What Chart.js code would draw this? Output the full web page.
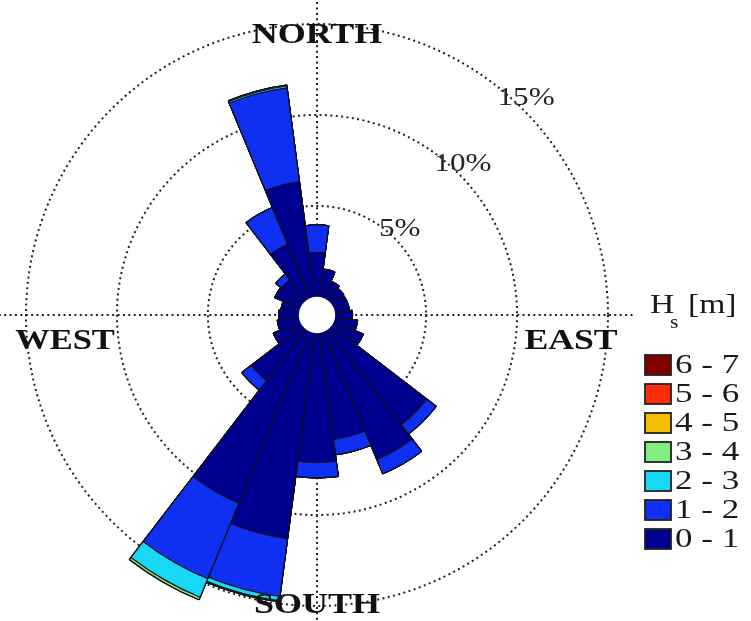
<!DOCTYPE html>
<html>
<head>
<meta charset="utf-8">
<script src="https://cdn.jsdelivr.net/npm/chart.js@4.4.1/dist/chart.umd.min.js"></script>
<style>
  html, body { margin: 0; padding: 0; background: #fff; }
  #wrap { width: 751px; height: 621px; position: relative; }
</style>
</head>
<body>
<div id="wrap"><canvas id="rose" width="751" height="621"></canvas></div>
<script>
// Wave direction bins (degrees, clockwise from north), 15° wide
const directions = [0, 15, 30, 45, 60, 75, 90, 105, 120, 135, 150, 165,
                    180, 195, 210, 225, 240, 255, 270, 285, 300, 315, 330, 345];

// Occurrence (%) per direction for each significant wave height class
const freq01 = [2.45, 1.55, 1.0, 0.85, 0.8, 0.8, 0.95, 1.25, 1.75, 6.6, 7.6, 5.9,
                7.1, 11.4, 10.2, 3.55, 1.6, 1.2, 1.1, 1.0, 1.5, 1.45, 3.2, 6.4];
const freq12 = [1.5, 0, 0, 0, 0, 0, 0, 0, 0, 0.65, 0.85, 0.85,
                0.85, 3.2, 4.5, 0.65, 0, 0, 0, 0, 0, 0.4, 2.2, 5.2];
const freq23 = [0, 0, 0, 0, 0, 0, 0, 0, 0, 0, 0, 0,
                0, 0.25, 1.1, 0, 0, 0, 0, 0, 0, 0, 0, 0.1];
const freq34 = [0, 0, 0, 0, 0, 0, 0, 0, 0, 0, 0, 0,
                0, 0.05, 0.15, 0, 0, 0, 0, 0, 0, 0, 0, 0.05];
const freq45 = [0, 0, 0, 0, 0, 0, 0, 0, 0, 0, 0, 0,
                0, 0, 0, 0, 0, 0, 0, 0, 0, 0, 0, 0];
const freq56 = [0, 0, 0, 0, 0, 0, 0, 0, 0, 0, 0, 0,
                0, 0, 0, 0, 0, 0, 0, 0, 0, 0, 0, 0];
const freq67 = [0, 0, 0, 0, 0, 0, 0, 0, 0, 0, 0, 0,
                0, 0, 0, 0, 0, 0, 0, 0, 0, 0, 0, 0];

const hsClasses = ['0 - 1', '1 - 2', '2 - 3', '3 - 4', '4 - 5', '5 - 6', '6 - 7'];
const classColors = ['#000090', '#0F30F2', '#18D8F5', '#80EE80', '#F2C000', '#FF2C08', '#800000'];

const tickValues = [5, 10, 15];
const tickLabels = ['5%', '10%', '15%'];
const compassLabels = ['NORTH', 'EAST', 'SOUTH', 'WEST'];

// Each ring is drawn as a cumulative sector; the lowest class sits on top
const series = [freq01, freq12, freq23, freq34, freq45, freq56, freq67];
let running = directions.map(() => 0);
const datasets = series.map((s, k) => {
  running = running.map((v, i) => v + s[i]);
  return {
    label: hsClasses[k],
    data: running.slice(),
    backgroundColor: classColors[k],
    borderColor: '#101018',
    borderWidth: 1.2,
    clip: false
  };
});

const SERIF = '"Liberation Serif", "DejaVu Serif", serif';

function wideText(ctx, text, x, y, font, color, sx, align, baseline) {
  ctx.save();
  ctx.font = font;
  ctx.fillStyle = color;
  ctx.textAlign = align || 'center';
  ctx.textBaseline = baseline || 'middle';
  ctx.translate(x, y);
  ctx.scale(sx, 1);
  ctx.fillText(text, 0, 0);
  ctx.restore();
}

// Dotted N-S / E-W cross beneath the sectors
const crossLines = {
  id: 'crossLines',
  beforeDatasetsDraw(chart) {
    const r = chart.scales.r;
    const ctx = chart.ctx;
    const len = r.getDistanceFromCenterForValue(16.5);
    ctx.save();
    ctx.strokeStyle = '#222';
    ctx.lineWidth = 2;
    ctx.setLineDash([2, 3.4]);
    ctx.beginPath();
    ctx.moveTo(r.xCenter, r.yCenter - len);
    ctx.lineTo(r.xCenter, r.yCenter + len);
    ctx.moveTo(r.xCenter - len, r.yCenter);
    ctx.lineTo(r.xCenter + len, r.yCenter);
    ctx.stroke();
    ctx.restore();
  }
};

// White hub at the zero radius
const hub = {
  id: 'hub',
  afterDatasetsDraw(chart) {
    const r = chart.scales.r;
    const ctx = chart.ctx;
    ctx.save();
    ctx.fillStyle = '#fff';
    ctx.beginPath();
    ctx.arc(r.xCenter, r.yCenter, r.getDistanceFromCenterForValue(0), 0, Math.PI * 2);
    ctx.fill();
    ctx.restore();
  }
};

// Percentage ticks, compass names and the wave-height key
const roseText = {
  id: 'roseText',
  afterDraw(chart) {
    const r = chart.scales.r;
    const ctx = chart.ctx;
    const cx = r.xCenter, cy = r.yCenter, R = r.drawingArea;

    const a = 44 * Math.PI / 180;
    tickValues.forEach((v, i) => {
      const d = r.getDistanceFromCenterForValue(v) + 10;
      wideText(ctx, tickLabels[i], cx + d * Math.sin(a), cy - d * Math.cos(a),
        '26px ' + SERIF, '#262626', 1.2);
    });

    const bold = 'bold 30px ' + SERIF;
    wideText(ctx, compassLabels[0], cx, cy - 0.962 * R, bold, '#111', 1.2);
    wideText(ctx, compassLabels[1], cx + 0.873 * R, cy + 26, bold, '#111', 1.19);
    wideText(ctx, compassLabels[2], cx, cy + 0.997 * R, bold, '#111', 1.2);
    wideText(ctx, compassLabels[3], cx - 0.866 * R, cy + 26, bold, '#111', 1.15);

    // key
    const kx = chart.chartArea.right + 37;
    wideText(ctx, 'H', kx + 5, 313, '28px ' + SERIF, '#1a1a1a', 1.2, 'left', 'alphabetic');
    wideText(ctx, 's', kx + 25, 328, '18px ' + SERIF, '#1a1a1a', 1.2, 'left', 'alphabetic');
    wideText(ctx, '[m]', kx + 43, 313, '28px ' + SERIF, '#1a1a1a', 1.2, 'left', 'alphabetic');
    for (let k = hsClasses.length - 1; k >= 0; k--) {
      const row = hsClasses.length - 1 - k;
      const yc = 365 + row * 29;
      ctx.save();
      ctx.fillStyle = classColors[k];
      ctx.strokeStyle = '#222';
      ctx.lineWidth = 1.8;
      ctx.fillRect(kx, yc - 10, 26, 20);
      ctx.strokeRect(kx, yc - 10, 26, 20);
      ctx.restore();
      wideText(ctx, hsClasses[k], kx + 30, yc + 1, '28px ' + SERIF, '#1a1a1a', 1.25, 'left', 'middle');
    }
  }
};

new Chart(document.getElementById('rose'), {
  type: 'polarArea',
  data: {
    labels: directions.map(d => d + '°'),
    datasets: datasets
  },
  options: {
    responsive: false,
    animation: false,
    layout: { padding: { left: 26, top: 24, right: 143, bottom: 15 } },
    plugins: {
      legend: { display: false },
      tooltip: { enabled: false }
    },
    scales: {
      r: {
        min: -1,
        max: 15,
        startAngle: -7.5,
        ticks: { display: false, stepSize: 5 },
        grid: {
          circular: true,
          lineWidth: 2,
          color: (c) => (c.tick && tickValues.includes(c.tick.value)) ? '#222' : 'rgba(0,0,0,0)'
        },
        border: { dash: [2, 3.4] },
        angleLines: { display: false },
        pointLabels: { display: false }
      }
    }
  },
  plugins: [crossLines, hub, roseText]
});
</script>
</body>
</html>
